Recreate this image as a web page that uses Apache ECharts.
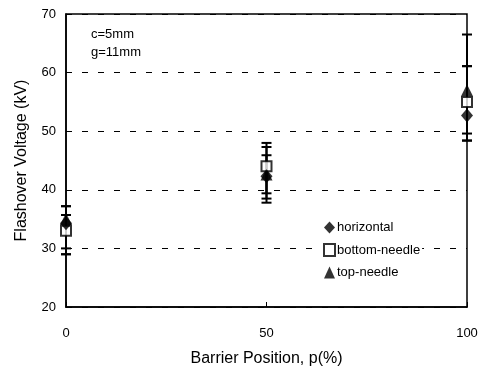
<!DOCTYPE html>
<html>
<head>
<meta charset="utf-8">
<script src="https://cdn.jsdelivr.net/npm/echarts@6/dist/echarts.min.js"></script>
<style>
  html, body { margin: 0; padding: 0; background: #fff; }
  #chart { width: 487px; height: 368px; }
</style>
</head>
<body>
<div id="chart"></div>
<script>
// barrier position p (%)
var positions = [0, 50, 100];

// mean flashover voltage (kV)
var horizontal = [34.3, 42.3, 52.7];
var bottomNeedle = [33.0, 44.0, 55.0];
var topNeedle = [35.0, 42.6, 57.0];

// error bar ranges (kV)
var horizontalLow = [30.0, 38.5, 48.4];
var horizontalHigh = [37.2, 45.9, 61.1];
var bottomNeedleLow = [29.0, 39.4, 49.6];
var bottomNeedleHigh = [35.7, 48.0, 61.1];
var topNeedleLow = [29.0, 37.8, 48.4];
var topNeedleHigh = [37.2, 47.3, 66.5];

var yTicks = [20, 30, 40, 50, 60, 70];
var xTicks = [0, 50, 100];

var FONT = 'Arial, "Liberation Sans", sans-serif';

var chartDom = document.getElementById('chart');
var myChart = echarts.init(chartDom);
var option;

function pairs(values) {
  return positions.map(function (p, i) { return [p, values[i]]; });
}

function ranges(low, high) {
  return positions.map(function (p, i) { return [p, low[i], high[i]]; });
}

function renderErrorBar(params, api) {
  var x = api.value(0);
  var top = api.coord([x, api.value(2)]);
  var bottom = api.coord([x, api.value(1)]);
  var half = 5;
  var style = { stroke: '#000', lineWidth: 2 };
  return {
    type: 'group',
    children: [
      { type: 'line', shape: { x1: top[0], y1: top[1], x2: bottom[0], y2: bottom[1] }, style: style },
      { type: 'line', shape: { x1: top[0] - half, y1: top[1], x2: top[0] + half, y2: top[1] }, style: style },
      { type: 'line', shape: { x1: bottom[0] - half, y1: bottom[1], x2: bottom[0] + half, y2: bottom[1] }, style: style }
    ]
  };
}

function errorSeries(low, high) {
  return {
    type: 'custom',
    renderItem: renderErrorBar,
    data: ranges(low, high),
    encode: { x: 0, y: [1, 2] },
    clip: false,
    z: 1,
    silent: true
  };
}

option = {
  animation: false,
  backgroundColor: '#fff',
  textStyle: { fontFamily: FONT, color: '#000' },
  grid: {
    left: 66,
    right: 20,
    top: 14,
    bottom: 61,
    outerBoundsMode: 'none',
    containLabel: false,
    show: true,
    borderColor: '#000',
    borderWidth: 1.5
  },
  legend: {
    orient: 'vertical',
    left: 321,
    top: 220,
    itemGap: 9,
    itemWidth: 11,
    itemHeight: 12,
    padding: [1, 2, 1, 2],
    backgroundColor: '#fff',
    textStyle: { fontFamily: FONT, fontSize: 13, color: '#000', padding: [0, 0, 0, -3] },
    data: ['horizontal', 'bottom-needle', 'top-needle']
  },
  graphic: [
    { type: 'text', left: 91, top: 28, style: { text: 'c=5mm', font: '13px ' + FONT, fill: '#000' } },
    { type: 'text', left: 91, top: 46, style: { text: 'g=11mm', font: '13px ' + FONT, fill: '#000' } }
  ],
  xAxis: {
    type: 'value',
    min: xTicks[0],
    max: xTicks[xTicks.length - 1],
    interval: 50,
    name: 'Barrier Position, p(%)',
    nameLocation: 'middle',
    nameGap: 44,
    nameTextStyle: { fontFamily: FONT, fontSize: 16, color: '#000' },
    axisLine: { lineStyle: { color: '#000', width: 1.5 } },
    axisTick: { inside: true, length: 5, lineStyle: { color: '#000' } },
    axisLabel: { fontFamily: FONT, fontSize: 13, color: '#000', margin: 20 },
    splitLine: { show: false }
  },
  yAxis: {
    type: 'value',
    min: yTicks[0],
    max: yTicks[yTicks.length - 1],
    interval: 10,
    name: 'Flashover Voltage (kV)',
    nameLocation: 'middle',
    nameGap: 36,
    nameTextStyle: { fontFamily: FONT, fontSize: 16, color: '#000' },
    axisLine: { lineStyle: { color: '#000', width: 1.5 } },
    axisTick: { show: false },
    axisLabel: { fontFamily: FONT, fontSize: 13, color: '#000', margin: 10 },
    splitLine: { lineStyle: { color: '#000', type: [6, 10], width: 1 } }
  },
  series: [
    errorSeries(horizontalLow, horizontalHigh),
    errorSeries(bottomNeedleLow, bottomNeedleHigh),
    errorSeries(topNeedleLow, topNeedleHigh),
    {
      name: 'top-needle',
      type: 'scatter',
      symbol: 'triangle',
      symbolSize: [12, 12],
      itemStyle: { color: '#000' },
      data: pairs(topNeedle),
      clip: false,
      z: 3
    },
    {
      name: 'bottom-needle',
      type: 'scatter',
      symbol: 'rect',
      symbolSize: 10,
      itemStyle: { color: '#fff', borderColor: '#000', borderWidth: 2 },
      data: pairs(bottomNeedle),
      clip: false,
      z: 4
    },
    {
      name: 'horizontal',
      type: 'scatter',
      symbol: 'diamond',
      symbolSize: [12, 14],
      itemStyle: { color: '#000' },
      data: pairs(horizontal),
      clip: false,
      z: 5
    }
  ]
};

option && myChart.setOption(option);
</script>
</body>
</html>
